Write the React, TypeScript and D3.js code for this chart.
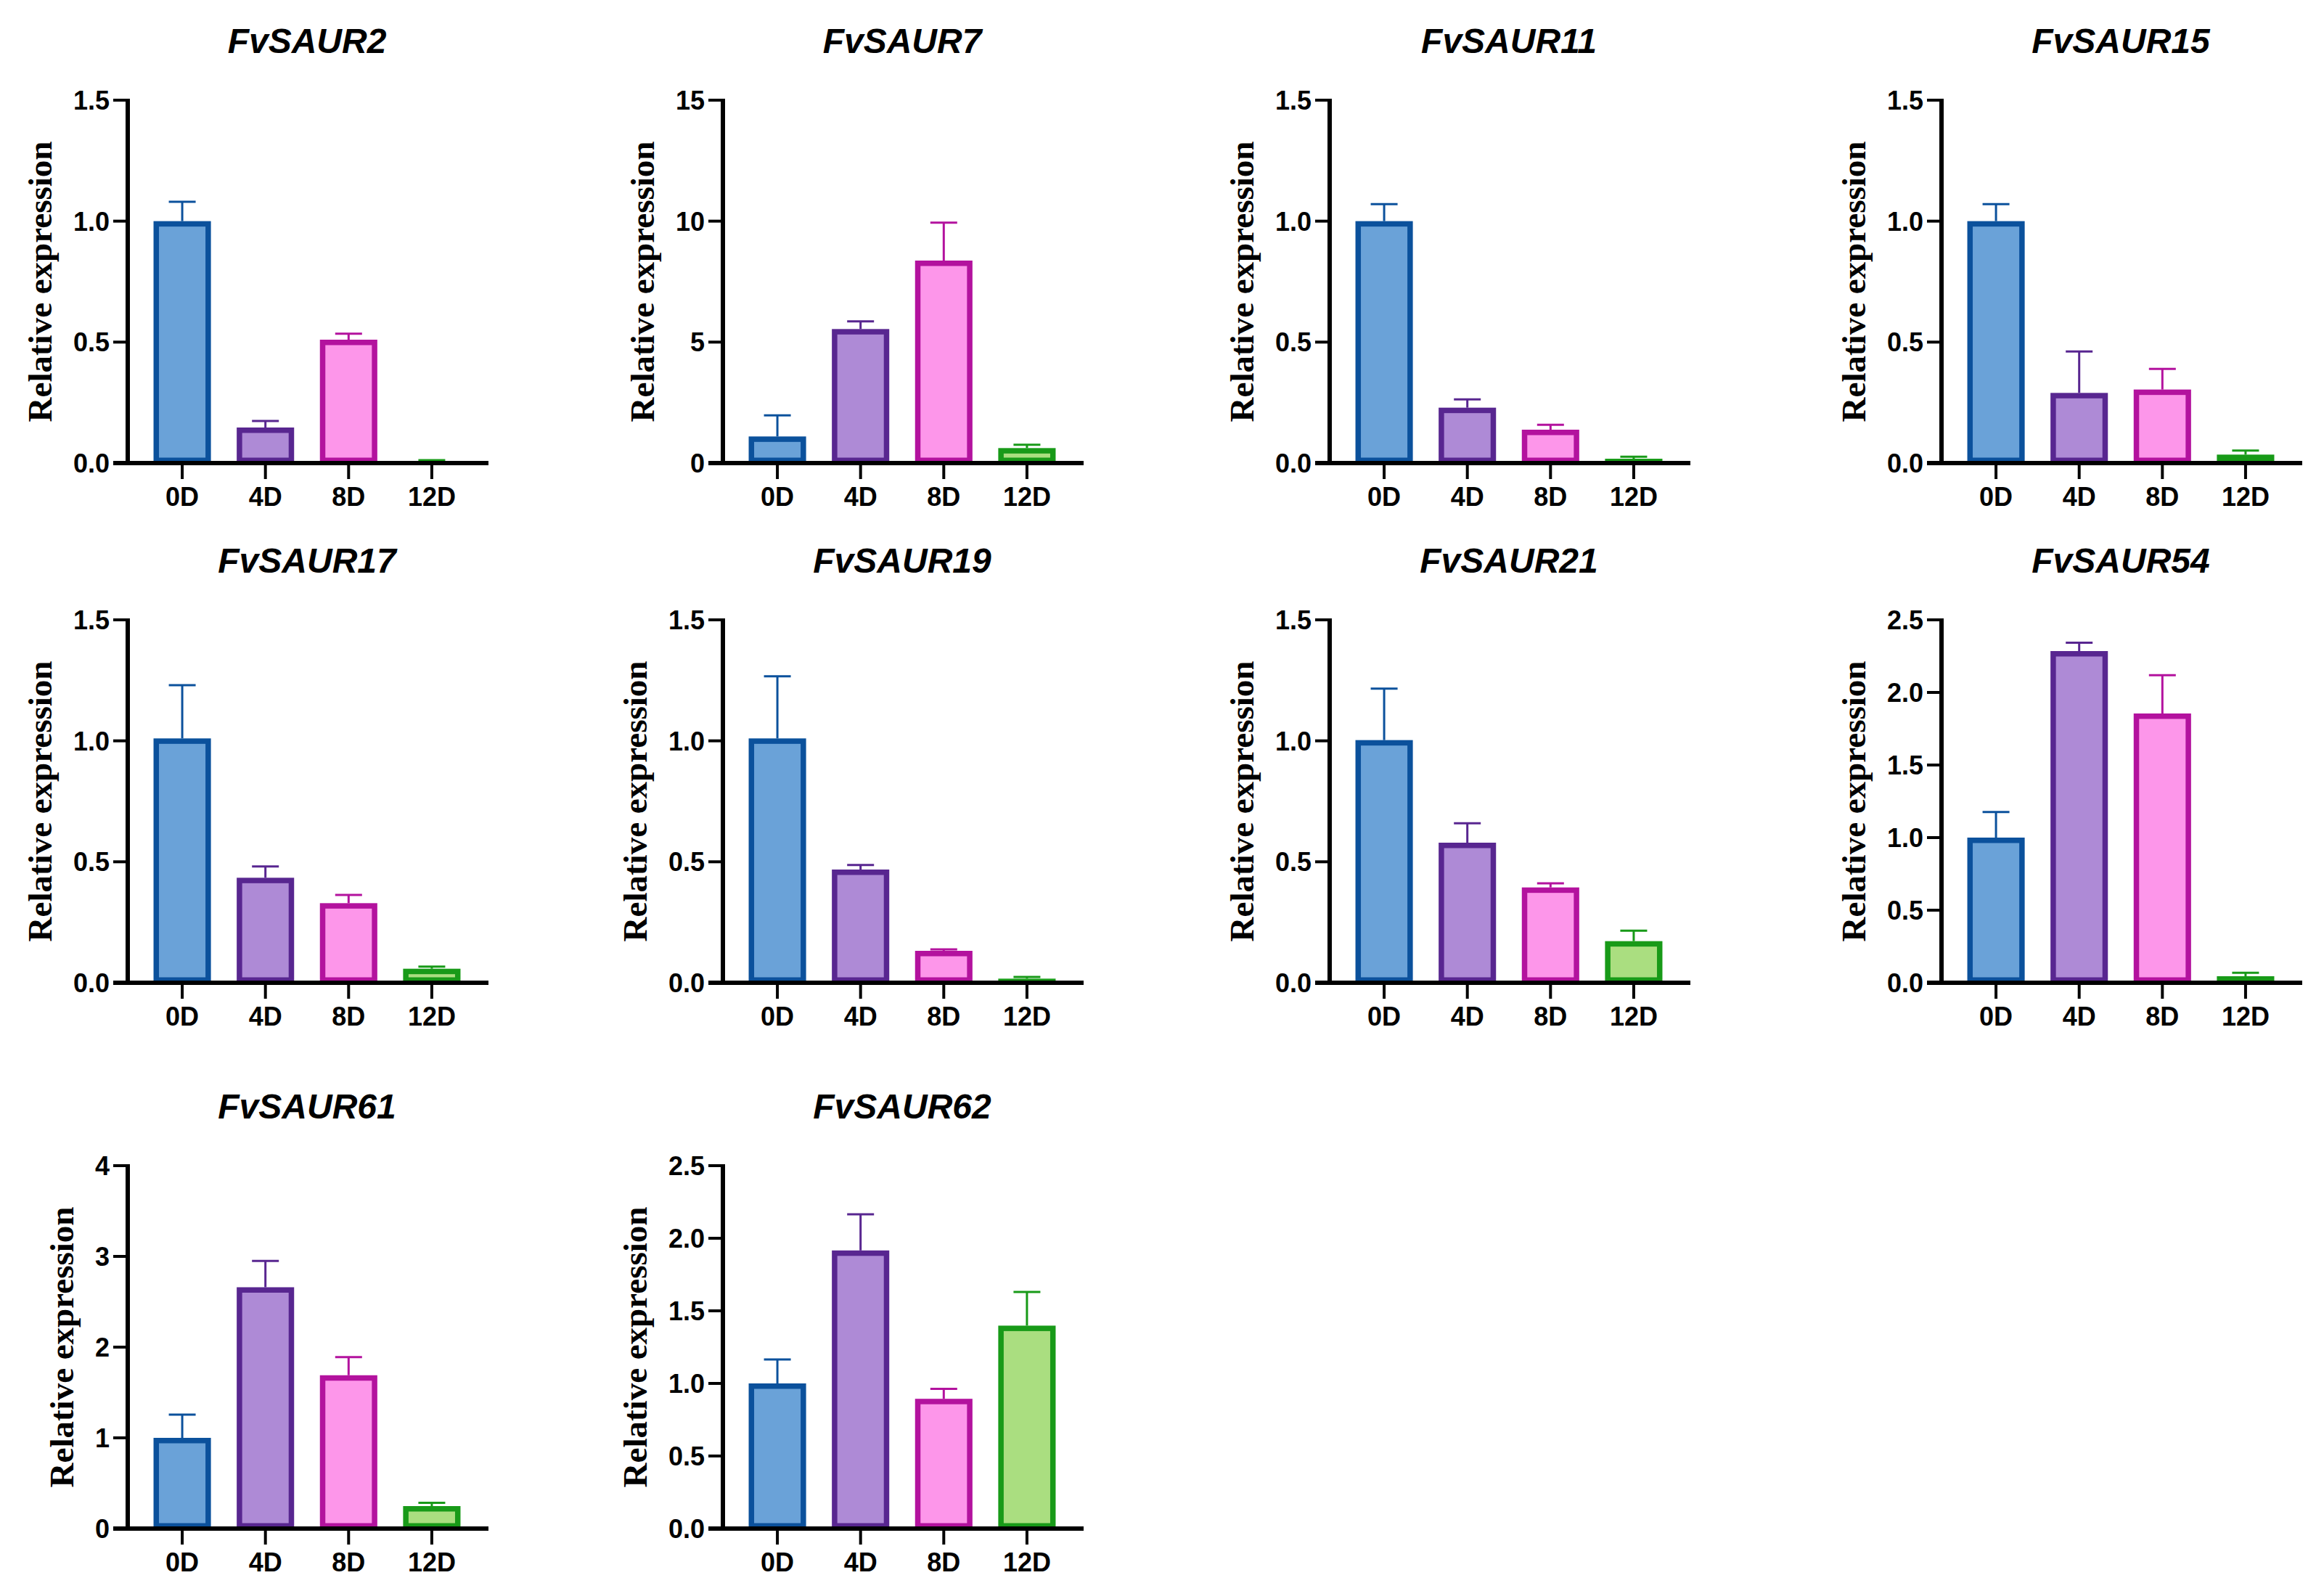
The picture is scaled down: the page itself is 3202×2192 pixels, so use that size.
import React from 'react';
import * as d3 from 'd3';

// gene panels, left to right, top to bottom
const genes = [
  'FvSAUR2', 'FvSAUR7', 'FvSAUR11', 'FvSAUR15',
  'FvSAUR17', 'FvSAUR19', 'FvSAUR21', 'FvSAUR54',
  'FvSAUR61', 'FvSAUR62',
];
const days = ['0D', '4D', '8D', '12D'];

// mean relative expression per day
const means = [
  [1.0, 0.147, 0.51, 0.008],
  [1.1, 5.54, 8.37, 0.62],
  [1.0, 0.229, 0.138, 0.018],
  [1.0, 0.29, 0.304, 0.035],
  [1.01, 0.434, 0.329, 0.058],
  [1.01, 0.468, 0.132, 0.017],
  [1.003, 0.579, 0.394, 0.172],
  [1.0, 2.285, 1.855, 0.045],
  [1.0, 2.66, 1.69, 0.248],
  [1.0, 1.916, 0.894, 1.398],
];
// upper error (SD)
const errors = [
  [0.08, 0.027, 0.025, 0.004],
  [0.87, 0.32, 1.57, 0.14],
  [0.07, 0.034, 0.02, 0.008],
  [0.07, 0.171, 0.085, 0.017],
  [0.22, 0.047, 0.034, 0.009],
  [0.257, 0.019, 0.006, 0.007],
  [0.213, 0.08, 0.017, 0.043],
  [0.176, 0.058, 0.264, 0.024],
  [0.257, 0.29, 0.2, 0.036],
  [0.165, 0.249, 0.068, 0.232],
];
const yMaxes = [1.5, 15, 1.5, 1.5, 1.5, 1.5, 1.5, 2.5, 4, 2.5];
const yTickSteps = [0.5, 5, 0.5, 0.5, 0.5, 0.5, 0.5, 0.5, 1, 0.5];

const fills = ['#6aa2d8', '#ae8ad6', '#fd96ea', '#aade80'];
const strokes = ['#0b519c', '#582690', '#b3129e', '#189a18'];

// layout
const colX = [176, 996, 1832, 2675];
const rowTop = [138, 854, 1606];
const plotW = 494;
const plotH = 500;
const tickLen = 20;
const tickFont = 36;

const sans = '"Liberation Sans", Arial, sans-serif';
const serif = '"Liberation Serif", "Times New Roman", serif';

function labelWidth(s: string) {
  let w = 0;
  for (const ch of s) w += ch === '.' ? 0.278 : 0.556;
  return w * tickFont;
}

const Panel: React.FC<{ i: number }> = ({ i }) => {
  const x0 = colX[i % 4];
  const top = rowTop[Math.floor(i / 4)];
  const yMax = yMaxes[i];
  const step = yTickSteps[i];

  const x = d3.scaleBand<string>().domain(days).range([0, plotW])
    .paddingInner(0.31).paddingOuter(0.31);
  const y = d3.scaleLinear().domain([0, yMax]).range([plotH, 0]);
  const ticks = d3.range(0, yMax + step / 2, step);
  const fmt = step < 1 ? d3.format('.1f') : d3.format('d');
  const maxLabW = d3.max(ticks, t => labelWidth(fmt(t))) as number;
  const bw = x.bandwidth();
  const sw = 7.5;
  const capW = 37;

  return (
    <g transform={`translate(${x0},${top})`}>
      <text x={plotW / 2} y={-65} textAnchor="middle" fontFamily={sans}
        fontWeight="bold" fontStyle="italic" fontSize={48}>{genes[i]}</text>
      <text transform={`translate(${-(tickLen + 5 + maxLabW + 30)},${plotH / 2}) rotate(-90)`}
        textAnchor="middle" fontFamily={serif} fontWeight="bold" fontSize={47}>Relative expression</text>

      {days.map((d, j) => {
        const v = means[i][j];
        const e = errors[i][j];
        const cx = (x(d) as number) + bw / 2;
        const h = y(0) - y(v);
        return (
          <g key={d}>
            <line x1={cx} x2={cx} y1={y(v)} y2={y(v + e)} stroke={strokes[j]} strokeWidth={3} />
            <line x1={cx - capW / 2} x2={cx + capW / 2} y1={y(v + e)} y2={y(v + e)}
              stroke={strokes[j]} strokeWidth={3} />
            {h > sw + 1 ? (
              <rect x={(x(d) as number) + sw / 2} y={y(v) + sw / 2} width={bw - sw} height={h - sw}
                fill={fills[j]} stroke={strokes[j]} strokeWidth={sw} />
            ) : (
              <rect x={x(d) as number} y={y(0) - Math.max(h, 3)} width={bw} height={Math.max(h, 3)}
                fill={strokes[j]} />
            )}
          </g>
        );
      })}

      {/* y axis */}
      <line x1={0} x2={0} y1={-2} y2={plotH} stroke="#000" strokeWidth={6} />
      {ticks.map(t => (
        <g key={t} transform={`translate(0,${y(t)})`}>
          <line x1={-tickLen} x2={0} stroke="#000" strokeWidth={4} />
          <text x={-tickLen - 5} dy="0.36em" textAnchor="end" fontFamily={sans}
            fontWeight="bold" fontSize={tickFont}>{fmt(t)}</text>
        </g>
      ))}

      {/* x axis */}
      <line x1={-tickLen} x2={plotW + 3} y1={plotH} y2={plotH} stroke="#000" strokeWidth={6} />
      {days.map(d => {
        const cx = (x(d) as number) + bw / 2;
        return (
          <g key={d} transform={`translate(${cx},${plotH})`}>
            <line y1={0} y2={tickLen + 2} stroke="#000" strokeWidth={4} />
            <text y={59} textAnchor="middle" fontFamily={sans} fontWeight="bold"
              fontSize={tickFont}>{d}</text>
          </g>
        );
      })}
    </g>
  );
};

export default function App() {
  return (
    <svg width={3202} height={2192} viewBox="0 0 3202 2192"
      style={{ position: 'absolute', left: 0, top: 0, background: '#fff' }}>
      <rect width={3202} height={2192} fill="#fff" />
      {genes.map((g, i) => <Panel key={g} i={i} />)}
    </svg>
  );
}
